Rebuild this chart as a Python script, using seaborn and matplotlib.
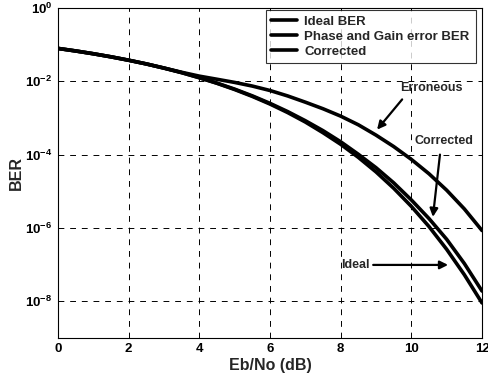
import numpy as np
import pandas as pd
import matplotlib
matplotlib.use('Agg')
import matplotlib.pyplot as plt
import seaborn as sns

# Eb/No axis (dB), half-dB steps
ebno = [0, 0.5, 1, 1.5, 2, 2.5, 3, 3.5, 4, 4.5, 5, 5.5, 6, 6.5, 7, 7.5, 8, 8.5, 9, 9.5, 10, 10.5, 11, 11.5, 12]

# BER
ber_ideal = [7.87e-2, 6.71e-2, 5.63e-2, 4.64e-2, 3.75e-2, 2.97e-2, 2.29e-2, 1.72e-2, 1.25e-2, 8.8e-3,
             5.95e-3, 3.86e-3, 2.39e-3, 1.40e-3, 7.73e-4, 3.95e-4, 1.91e-4, 8.4e-5, 3.37e-5, 1.21e-5,
             3.87e-6, 1.09e-6, 2.61e-7, 5.3e-8, 9.0e-9]
ber_error = [7.87e-2, 6.71e-2, 5.63e-2, 4.64e-2, 3.75e-2, 2.97e-2, 2.29e-2, 1.76e-2, 1.38e-2, 1.135e-2,
             9.3e-3, 7.4e-3, 5.6e-3, 3.98e-3, 2.69e-3, 1.78e-3, 1.12e-3, 6.5e-4, 3.4e-4, 1.66e-4,
             7.4e-5, 3.0e-5, 1.07e-5, 3.3e-6, 8.5e-7]
ber_corr = [7.87e-2, 6.71e-2, 5.63e-2, 4.64e-2, 3.75e-2, 2.97e-2, 2.29e-2, 1.72e-2, 1.25e-2, 8.9e-3,
            6.1e-3, 4.0e-3, 2.5e-3, 1.49e-3, 8.4e-4, 4.5e-4, 2.24e-4, 1.02e-4, 4.4e-5, 1.7e-5,
            5.8e-6, 1.8e-6, 4.9e-7, 1.07e-7, 1.9e-8]

series_names = ['Ideal BER', 'Phase and Gain error BER', 'Corrected']

sns.set_style('white')
plt.rcParams['font.family'] = ['Liberation Sans', 'DejaVu Sans']
plt.rcParams['font.weight'] = 'bold'
plt.rcParams['mathtext.fontset'] = 'custom'
plt.rcParams['mathtext.bf'] = 'Liberation Sans:bold'
plt.rcParams['mathtext.rm'] = 'Liberation Sans:bold'

fig = plt.figure(figsize=(4.89, 3.78), dpi=100)
ax = fig.add_axes([0.1186, 0.106, 0.8671, 0.873])

for name, vals in zip(series_names, [ber_ideal, ber_error, ber_corr]):
    sns.lineplot(x=ebno, y=vals, ax=ax, color='black', linewidth=2.6, label=name)

ax.set_yscale('log')
ax.set_xlim(0, 12)
ax.set_ylim(1e-9, 1)
ax.set_xticks([0, 2, 4, 6, 8, 10, 12])
ax.set_xticklabels(['0', '2', '4', '6', '8', '10', '12'], fontsize=9.5, fontweight='bold')
yt = [1e0, 1e-2, 1e-4, 1e-6, 1e-8]
ax.set_yticks(yt)
ax.set_yticklabels([r'$10^{0}$', r'$10^{-2}$', r'$10^{-4}$', r'$10^{-6}$', r'$10^{-8}$'], fontsize=9.5)
ax.yaxis.set_minor_locator(matplotlib.ticker.NullLocator())
ax.grid(True, which='major', color='black', linestyle=(0, (6, 6)), linewidth=0.7)
for s in ax.spines.values():
    s.set_color('black')
    s.set_linewidth(0.8)
ax.tick_params(axis='both', length=3, direction='in', colors='black', pad=4)

ax.set_xlabel('Eb/No (dB)', fontsize=11.5, fontweight='bold', labelpad=2)
ax.set_ylabel('BER', fontsize=11.5, fontweight='bold', labelpad=1)

leg = ax.legend(loc='upper right', fontsize=9.5, frameon=True, fancybox=False, edgecolor='black',
                bbox_to_anchor=(0.985, 0.995), borderaxespad=0.0, handlelength=1.9,
                labelspacing=0.2, borderpad=0.45, handletextpad=0.6)
leg.get_frame().set_linewidth(0.8)
for t in leg.get_texts():
    t.set_fontweight('bold')

arrow = dict(arrowstyle='-|>', color='black', lw=1.6, mutation_scale=12, shrinkA=0, shrinkB=0)
ax.text(10.56, 6.7e-3, 'Erroneous', fontsize=9, fontweight='bold', ha='center', va='center')
ax.annotate('', xy=(9.03, 4.8e-4), xytext=(9.74, 3.2e-3), arrowprops=arrow)
ax.text(10.93, 2.4e-4, 'Corrected', fontsize=9, fontweight='bold', ha='center', va='center')
ax.annotate('', xy=(10.61, 2.0e-6), xytext=(10.81, 1.0e-4), arrowprops=arrow)
ax.text(8.41, 9.8e-8, 'Ideal', fontsize=9, fontweight='bold', ha='center', va='center')
ax.annotate('', xy=(11.04, 9.8e-8), xytext=(8.92, 9.8e-8), arrowprops=arrow)

plt.savefig('out.png', dpi=100)
